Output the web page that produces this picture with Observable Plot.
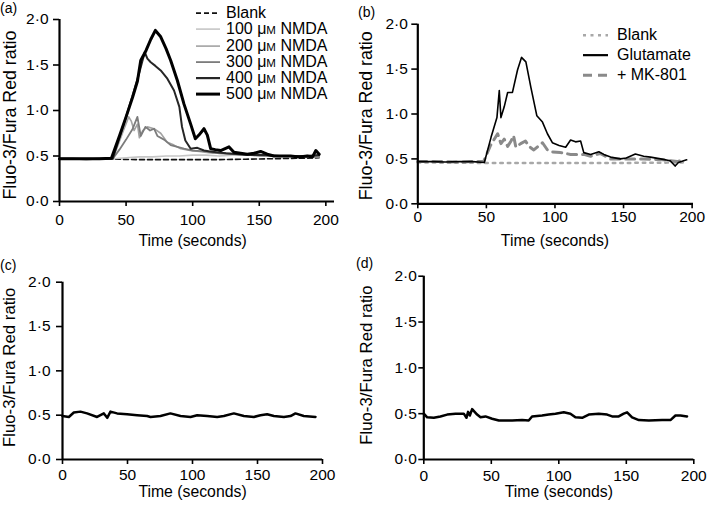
<!DOCTYPE html>
<html>
<head>
<meta charset="utf-8">
<script src="https://cdn.jsdelivr.net/npm/d3@7"></script>
<script src="https://cdn.jsdelivr.net/npm/@observablehq/plot@0.6"></script>
<style>
  html, body { margin: 0; padding: 0; background: #fff; }
  #root { position: relative; width: 709px; height: 508px; font-family: "Liberation Sans", Arial, sans-serif; color: #000; overflow: hidden; }
  .panel { position: absolute; }
  .plabel { position: absolute; font-size: 14px; line-height: 14px; }
  .legend { position: absolute; font-size: 16px; }
  .legend .row { display: flex; align-items: center; white-space: nowrap; }
  .legend svg { display: block; flex: none; }
  .sc { font-size: 0.72em; }
</style>
</head>
<body>
<div id="root"></div>
<script>
// ---------- Data ----------
const xTicks = [0, 50, 100, 150, 200];
const yTicks = [0, 0.5, 1.0, 1.5, 2.0];
const xLabel = "Time (seconds)";
const yLabel = "Fluo-3/Fura Red ratio";

// Panel (a)
const aBlankT = [0, 20, 40, 60, 80, 100, 120, 140, 160, 180, 195];
const aBlankV = [0.47, 0.47, 0.465, 0.46, 0.46, 0.46, 0.46, 0.465, 0.47, 0.475, 0.48];
const a100T = [0, 10, 20, 30, 40, 50, 60, 70, 80, 90, 100, 110, 120, 130, 140, 150, 160, 170, 180, 190, 195];
const a100V = [0.47, 0.47, 0.465, 0.47, 0.47, 0.48, 0.49, 0.49, 0.50, 0.50, 0.51, 0.51, 0.50, 0.51, 0.51, 0.51, 0.50, 0.50, 0.50, 0.49, 0.49];
const a200T = [0, 20, 40, 44, 48, 52, 54, 56, 58.5, 60, 62.5, 66, 71, 76, 81, 86, 91, 98, 105, 115, 125, 135, 150, 165, 180, 195];
const a200V = [0.47, 0.47, 0.47, 0.62, 0.78, 0.93, 0.88, 0.78, 0.85, 0.70, 0.78, 0.82, 0.80, 0.75, 0.65, 0.62, 0.58, 0.56, 0.55, 0.53, 0.53, 0.52, 0.50, 0.50, 0.49, 0.49];
const a300T = [0, 20, 40, 45, 50, 55, 58.5, 61, 64.5, 68, 71, 73.5, 78.5, 83.5, 88.5, 93.5, 100, 110, 120, 130, 145, 160, 175, 195];
const a300V = [0.47, 0.47, 0.47, 0.57, 0.68, 0.80, 0.93, 0.72, 0.82, 0.78, 0.80, 0.72, 0.68, 0.62, 0.60, 0.58, 0.56, 0.55, 0.53, 0.52, 0.51, 0.50, 0.50, 0.49];
const a400T = [0, 10, 20, 30, 40, 45, 50, 55, 60, 64, 66, 68.5, 72, 76, 81, 86, 90, 92, 94.5, 98.5, 103.5, 108.5, 113, 118, 125, 135, 145, 155, 165, 175, 185, 195];
const a400V = [0.47, 0.47, 0.465, 0.47, 0.47, 0.70, 0.93, 1.17, 1.42, 1.64, 1.57, 1.53, 1.49, 1.44, 1.35, 1.22, 1.04, 0.82, 0.67, 0.58, 0.59, 0.56, 0.55, 0.54, 0.53, 0.52, 0.51, 0.51, 0.50, 0.50, 0.50, 0.51];
const a500T = [0, 10, 20, 30, 39, 45, 50, 55, 58.5, 61, 65, 68.5, 72, 76, 80, 83.5, 88.5, 93.5, 98.5, 102, 104.7, 108.5, 111, 113.5, 117, 121, 127.3, 131, 136, 141, 146, 151, 156, 161, 167, 173.5, 180, 186, 190, 192.5, 195];
const a500V = [0.47, 0.47, 0.47, 0.47, 0.475, 0.72, 0.93, 1.15, 1.32, 1.55, 1.66, 1.78, 1.88, 1.81, 1.68, 1.55, 1.33, 1.07, 0.85, 0.69, 0.73, 0.80, 0.73, 0.58, 0.57, 0.56, 0.60, 0.54, 0.53, 0.52, 0.53, 0.55, 0.52, 0.50, 0.50, 0.50, 0.49, 0.50, 0.49, 0.56, 0.52];

// Panel (b)
const bBlankT = [0, 50, 100, 150, 195];
const bBlankV = [0.46, 0.455, 0.455, 0.455, 0.46];
const bGluT = [0, 10, 20, 30, 40, 48.5, 53.4, 57.7, 59.4, 60.6, 63, 65.5, 69, 72.7, 75.6, 78.8, 82.4, 86.8, 90.9, 94.5, 98.1, 103, 107.8, 111.4, 115, 118.7, 121, 126, 132, 135.6, 140.5, 147.7, 152, 158.6, 164.7, 169.6, 177, 184, 187.6, 190, 196];
const bGluV = [0.47, 0.47, 0.465, 0.47, 0.47, 0.46, 0.74, 0.96, 1.26, 0.96, 1.08, 1.24, 1.24, 1.49, 1.63, 1.58, 1.30, 0.98, 0.91, 0.78, 0.68, 0.65, 0.63, 0.71, 0.69, 0.70, 0.57, 0.55, 0.58, 0.55, 0.52, 0.50, 0.51, 0.555, 0.53, 0.52, 0.50, 0.48, 0.42, 0.46, 0.49];
const bMkT = [0, 10, 20, 30, 40, 48, 53, 58.2, 60.6, 63, 65.5, 68, 69.8, 71.5, 75, 78.5, 81, 84.6, 90.9, 94.5, 97, 104, 111.4, 121, 126, 133, 140.5, 152.6, 164.7, 179, 189, 195];
const bMkV = [0.47, 0.47, 0.47, 0.465, 0.47, 0.47, 0.65, 0.78, 0.67, 0.72, 0.64, 0.70, 0.76, 0.63, 0.67, 0.70, 0.64, 0.60, 0.68, 0.60, 0.58, 0.57, 0.55, 0.55, 0.53, 0.56, 0.50, 0.50, 0.50, 0.49, 0.47, 0.49];

// Panel (c)
const cT = [0, 4.9, 8.7, 13.8, 18.9, 26.6, 31.8, 34.4, 36.9, 42, 49.7, 57.4, 65.1, 67.7, 75.4, 83, 90.8, 98.5, 103.6, 111.3, 119, 124.1, 131.8, 139.5, 147.2, 152.3, 157.4, 162.6, 170.3, 175.4, 179.2, 185.6, 194.6];
const cV = [0.49, 0.48, 0.53, 0.54, 0.52, 0.48, 0.52, 0.47, 0.54, 0.52, 0.51, 0.50, 0.49, 0.48, 0.49, 0.52, 0.49, 0.48, 0.50, 0.49, 0.48, 0.49, 0.52, 0.49, 0.48, 0.50, 0.51, 0.49, 0.48, 0.49, 0.52, 0.49, 0.48];

// Panel (d)
const dT = [0, 2.5, 7.4, 12.3, 17.3, 23.5, 29.6, 31.6, 32.8, 34.1, 35.8, 39.5, 42, 45.7, 50.6, 55.6, 65.4, 72.8, 77.7, 80.2, 87.6, 92.5, 97.5, 103.7, 108.6, 112.3, 117.3, 122.2, 129.6, 135.8, 139.5, 144.4, 148.1, 150.6, 154.3, 159.3, 166.7, 176.5, 182.7, 186.4, 190.1, 195];
const dV = [0.50, 0.46, 0.455, 0.47, 0.49, 0.50, 0.50, 0.455, 0.52, 0.48, 0.55, 0.49, 0.46, 0.47, 0.445, 0.425, 0.425, 0.43, 0.425, 0.47, 0.48, 0.49, 0.50, 0.515, 0.50, 0.46, 0.455, 0.49, 0.50, 0.49, 0.47, 0.47, 0.50, 0.515, 0.46, 0.43, 0.425, 0.43, 0.43, 0.48, 0.48, 0.47];

// ---------- Helpers ----------
const pts = (t, v) => t.map((x, i) => ({x, y: v[i]}));
const fmt = d => d.toFixed(1).replace(".", "\u00b7");
const FONT = '"Liberation Sans", Arial, sans-serif';
const root = document.getElementById("root");

function panel(cfg, lineMarks) {
  const chart = Plot.plot({
    width: cfg.width, height: cfg.height,
    marginLeft: cfg.mL, marginRight: cfg.mR, marginTop: cfg.mT, marginBottom: cfg.mB,
    x: {domain: [0, cfg.xMax]},
    y: {domain: [0, 2]},
    style: {fontFamily: FONT, fontSize: "15.5px", color: "#000", background: "transparent", overflow: "visible"},
    marks: [
      Plot.axisX({ticks: xTicks, tickSize: 5, tickPadding: cfg.xTickPad, strokeWidth: 1.6, label: null, tickFormat: d => String(d), fontSize: 15.5}),
      Plot.axisY({ticks: yTicks, tickSize: cfg.yTickSize, tickPadding: cfg.yTickPad, strokeWidth: 1.6, label: null, tickFormat: fmt, fontSize: 15.5}),
      ...lineMarks,
      Plot.ruleX([0], {strokeWidth: 2.2}),
      Plot.ruleY([0], {strokeWidth: 2.2}),
      Plot.text([xLabel], {x: 100, frameAnchor: "bottom", dy: cfg.xLabelDy, fontSize: 15.8, lineAnchor: "middle"}),
      Plot.text([yLabel], {y: cfg.yLabelY, frameAnchor: "left", dx: cfg.yLabelX - cfg.mL, rotate: -90, fontSize: cfg.yLabelSize, lineAnchor: "middle", textAnchor: "middle"})
    ]
  });
  const div = document.createElement("div");
  div.className = "panel";
  div.style.left = cfg.left + "px";
  div.style.top = cfg.top + "px";
  div.appendChild(chart);
  root.appendChild(div);
}

function plabel(text, x, y) {
  const d = document.createElement("div");
  d.className = "plabel";
  d.style.left = x + "px"; d.style.top = y + "px";
  d.textContent = text;
  root.appendChild(d);
}

function legend(items, left, top, rowH, swW) {
  const L = document.createElement("div");
  L.className = "legend";
  L.style.left = left + "px"; L.style.top = top + "px";
  for (const it of items) {
    const row = document.createElement("div");
    row.className = "row";
    row.style.height = rowH + "px";
    const svg = d3.create("svg").attr("width", swW).attr("height", rowH);
    svg.append("line").attr("x1", 0).attr("x2", swW).attr("y1", rowH / 2).attr("y2", rowH / 2)
      .attr("stroke", it.stroke).attr("stroke-width", it.sw).attr("stroke-dasharray", it.dash || null);
    row.appendChild(svg.node());
    const s = document.createElement("span");
    s.style.marginLeft = it.gap + "px";
    s.innerHTML = it.html;
    row.appendChild(s);
    L.appendChild(row);
  }
  root.appendChild(L);
}

// ---------- Styles ----------
const stA = {
  blank: {stroke: "#111", strokeWidth: 1.6, strokeDasharray: "5,3"},
  n100: {stroke: "#c6c6c6", strokeWidth: 1.6},
  n200: {stroke: "#a2a2a2", strokeWidth: 1.6},
  n300: {stroke: "#7c7c7c", strokeWidth: 1.8},
  n400: {stroke: "#262626", strokeWidth: 2},
  n500: {stroke: "#000", strokeWidth: 3}
};
const stB = {
  blank: {stroke: "#a8a8a8", strokeWidth: 2.5, strokeDasharray: "2.5,5"},
  glu: {stroke: "#000", strokeWidth: 1.6},
  mk: {stroke: "#8a8a8a", strokeWidth: 3, strokeDasharray: "9,6"}
};

// ---------- Panels ----------
panel({left: 0, top: 0, width: 355, height: 260, mL: 59, mR: 21, mT: 19, mB: 59, xMax: 206.5,
       yTickSize: 6, yTickPad: 5, xTickPad: 7.5, xLabelDy: 39, yLabelX: 9.5, yLabelY: 0.95, yLabelSize: 17.8}, [
  Plot.line(pts(aBlankT, aBlankV), {x: "x", y: "y", ...stA.blank}),
  Plot.line(pts(a100T, a100V), {x: "x", y: "y", ...stA.n100}),
  Plot.line(pts(a200T, a200V), {x: "x", y: "y", ...stA.n200}),
  Plot.line(pts(a300T, a300V), {x: "x", y: "y", ...stA.n300}),
  Plot.line(pts(a400T, a400V), {x: "x", y: "y", ...stA.n400}),
  Plot.line(pts(a500T, a500V), {x: "x", y: "y", ...stA.n500})
]);

panel({left: 355, top: 0, width: 354, height: 260, mL: 62.3, mR: 16, mT: 23.7, mB: 56.7, xMax: 201,
       yTickSize: 6, yTickPad: 4, xTickPad: 2, xLabelDy: 37, yLabelX: 11, yLabelY: 0.98, yLabelSize: 17.8}, [
  Plot.line(pts(bBlankT, bBlankV), {x: "x", y: "y", ...stB.blank}),
  Plot.line(pts(bMkT, bMkV), {x: "x", y: "y", ...stB.mk}),
  Plot.line(pts(bGluT, bGluV), {x: "x", y: "y", ...stB.glu})
]);

panel({left: 0, top: 260, width: 355, height: 248, mL: 62, mR: 33, mT: 21.7, mB: 49, xMax: 200,
       yTickSize: 6, yTickPad: 6, xTickPad: 4, xLabelDy: 32, yLabelX: 9, yLabelY: 1.04, yLabelSize: 16.8}, [
  Plot.line(pts(cT, cV), {x: "x", y: "y", stroke: "#000", strokeWidth: 2.5})
]);

panel({left: 355, top: 260, width: 354, height: 248, mL: 68.3, mR: 15.7, mT: 15.7, mB: 49, xMax: 200,
       yTickSize: 5, yTickPad: 2, xTickPad: 5.5, xLabelDy: 32.5, yLabelX: 11, yLabelY: 1.03, yLabelSize: 16.8}, [
  Plot.line(pts(dT, dV), {x: "x", y: "y", stroke: "#000", strokeWidth: 2.5})
]);

// ---------- Panel labels ----------
plabel("(a)", 0, 1);
plabel("(b)", 358, 5);
plabel("(c)", 0, 258);
plabel("(d)", 356, 256);

// ---------- Legends ----------
const um = n => `${n} \u03bc<span class="sc">M</span> NMDA`;
legend([
  {html: "Blank", stroke: stA.blank.stroke, sw: 1.8, dash: "5,3", gap: 6},
  {html: um(100), stroke: stA.n100.stroke, sw: 1.6, gap: 6},
  {html: um(200), stroke: stA.n200.stroke, sw: 1.6, gap: 6},
  {html: um(300), stroke: stA.n300.stroke, sw: 1.8, gap: 6},
  {html: um(400), stroke: stA.n400.stroke, sw: 2.2, gap: 6},
  {html: um(500), stroke: stA.n500.stroke, sw: 3, gap: 6}
], 196, 5.2, 16.2, 24);

legend([
  {html: "Blank", stroke: stB.blank.stroke, sw: 2.5, dash: "3,4.5", gap: 9},
  {html: "Glutamate", stroke: stB.glu.stroke, sw: 2.2, gap: 9},
  {html: "+ MK-801", stroke: stB.mk.stroke, sw: 3, dash: "9,6", gap: 9}
], 583, 24.5, 20.3, 25);
</script>
</body>
</html>
